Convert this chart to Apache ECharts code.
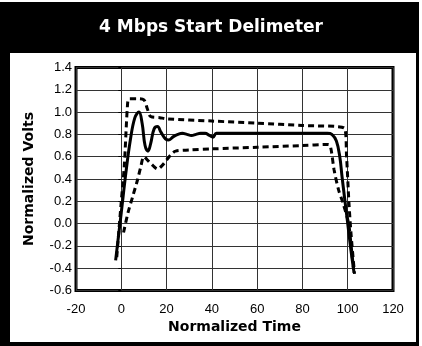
<!DOCTYPE html>
<html>
<head>
<meta charset="utf-8">
<script src="https://cdn.jsdelivr.net/npm/echarts@6/dist/echarts.min.js"></script>
<style>html,body{margin:0;padding:0;background:#fff;}#c{width:422px;height:346px;}</style>
</head>
<body>
<div id="c"></div>
<script>
var titleText = '4 Mbps Start Delimeter';
var xName = 'Normalized Time';
var yName = 'Normalized Volts';
var xTicks = [-20, 0, 20, 40, 60, 80, 100, 120];
var yTicks = [-0.6, -0.4, -0.2, 0.0, 0.2, 0.4, 0.6, 0.8, 1.0, 1.2, 1.4];

var signalX = [-2.5, 0, 2, 4, 6, 7.8, 9.2, 10.5, 11.8, 13, 14.5, 16, 17.5, 19.5, 21, 23, 25, 27, 29, 31, 33, 35, 37, 39, 40.5, 42, 50, 70, 85, 91, 93, 95, 96.5, 97.5, 98.5, 100, 101.5, 102.8];
var signalY = [-0.33, 0.1, 0.45, 0.75, 0.95, 1.0, 0.9, 0.7, 0.65, 0.72, 0.85, 0.87, 0.82, 0.76, 0.75, 0.78, 0.8, 0.81, 0.8, 0.79, 0.8, 0.81, 0.81, 0.79, 0.775, 0.81, 0.81, 0.81, 0.81, 0.81, 0.8, 0.74, 0.6, 0.42, 0.25, 0.0, -0.25, -0.44];

var upperX = [-2, 0, 1.3, 2.8, 3.5, 7, 10, 11.5, 13, 17, 20, 40, 60, 80, 98.5, 99.5, 100.5, 101.5, 103];
var upperY = [-0.3, 0.2, 0.51, 1.08, 1.12, 1.12, 1.11, 1.03, 0.96, 0.95, 0.94, 0.92, 0.9, 0.88, 0.857, 0.6, 0.2, -0.1, -0.45];

var lowerX = [1, 3, 5, 7, 8.5, 10, 12, 14, 16, 18, 20, 22, 24, 30, 40, 60, 80, 91.5, 92.5, 94, 96, 98, 100.4, 101.5, 102.6];
var lowerY = [-0.08, 0.1, 0.24, 0.38, 0.5, 0.6, 0.56, 0.52, 0.49, 0.52, 0.57, 0.62, 0.65, 0.66, 0.67, 0.685, 0.7, 0.71, 0.68, 0.48, 0.3, 0.18, 0.0, -0.2, -0.41];

function pairs(xs, ys) { return xs.map(function (x, i) { return [x, ys[i]]; }); }

var chart = echarts.init(document.getElementById('c'), null, {renderer: 'canvas'});
var gridLeft = 76, gridTop = 67.5, gridW = 317, gridH = 223;
chart.setOption({
  animation: false,
  backgroundColor: '#fff',
  graphic: [
    {type: 'rect', z: -10, silent: true, shape: {x: 0, y: 2, width: 419, height: 344}, style: {fill: '#000'}},
    {type: 'rect', z: -9, silent: true, shape: {x: 10, y: 53, width: 406, height: 289}, style: {fill: '#fff'}}
  ],
  title: {
    text: titleText, left: 'center', top: 14,
    textStyle: {color: '#fff', fontFamily: 'DejaVu Sans', fontWeight: 'bold', fontSize: 17}
  },
  grid: {
    left: gridLeft, top: gridTop, width: gridW, height: gridH,
    show: true, borderColor: '#000', borderWidth: 3, backgroundColor: 'transparent'
  },
  xAxis: {
    type: 'value', min: -20, max: 120, interval: 20,
    name: xName, nameLocation: 'middle', nameGap: 29,
    nameTextStyle: {color: '#000', fontFamily: 'DejaVu Sans', fontWeight: 'bold', fontSize: 14},
    axisLine: {show: false}, axisTick: {show: false},
    axisLabel: {color: '#000', fontFamily: 'Liberation Sans', fontSize: 13, margin: 12,
      formatter: function (v) { return xTicks.indexOf(v) >= 0 ? String(v) : ''; }},
    splitLine: {show: true, lineStyle: {color: '#333', width: 1}}
  },
  yAxis: {
    type: 'value', min: -0.6, max: 1.4, interval: 0.2,
    name: yName, nameLocation: 'middle', nameGap: 40,
    nameTextStyle: {color: '#000', fontFamily: 'DejaVu Sans', fontWeight: 'bold', fontSize: 14},
    axisLine: {show: false},
    axisTick: {show: true, length: 3, lineStyle: {color: '#000', width: 1}},
    axisLabel: {color: '#000', fontFamily: 'Liberation Sans', fontSize: 13, margin: 4,
      formatter: function (v) {
        var best = yTicks.reduce(function (a, b) { return Math.abs(b - v) < Math.abs(a - v) ? b : a; });
        return best.toFixed(1);
      }},
    splitLine: {show: true, lineStyle: {color: '#333', width: 1}}
  },
  series: [
    {type: 'line', data: pairs(upperX, upperY), showSymbol: false, smooth: 0.3,
      lineStyle: {color: '#000', width: 3, type: [6, 4]}},
    {type: 'line', data: pairs(lowerX, lowerY), showSymbol: false, smooth: 0.3,
      lineStyle: {color: '#000', width: 3, type: [6, 4]}},
    {type: 'line', data: pairs(signalX, signalY), showSymbol: false, smooth: 0.4,
      lineStyle: {color: '#000', width: 3}}
  ]
});
</script>
</body>
</html>
